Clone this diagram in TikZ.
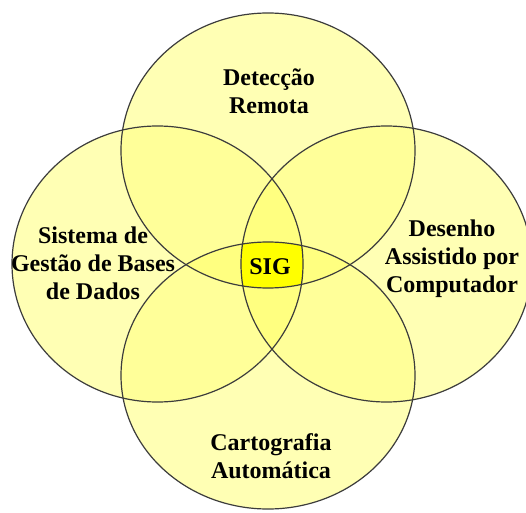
\documentclass[tikz,border=0pt]{standalone}
\usepackage{fontspec}
\setmainfont{Liberation Serif}
\definecolor{cA}{RGB}{255,255,180}
\definecolor{cB}{RGB}{255,255,153}
\definecolor{cC}{RGB}{255,255,128}
\definecolor{cD}{RGB}{255,255,0}
\definecolor{outc}{RGB}{60,60,60}
\begin{document}
\begin{tikzpicture}[x=1bp,y=-1bp,
  lab/.style={font=\bfseries\fontsize{24bp}{28bp}\selectfont, align=center, inner sep=0pt, text=black},
  outl/.style={draw=outc, line width=1.2bp}]
\def\ET{(268,150.5) ellipse [x radius=147bp, y radius=137.5bp]}
\def\EL{(157.5,264) ellipse [x radius=145.5bp, y radius=138bp]}
\def\ER{(386.5,264) ellipse [x radius=145.5bp, y radius=138bp]}
\def\EB{(268,375.5) ellipse [x radius=147bp, y radius=133.5bp]}
\useasboundingbox (0,0) rectangle (526,513);
\clip (0,0) rectangle (526,513);
\fill[white] (0,0) rectangle (526,513);
% single
\fill[cA] \ET; \fill[cA] \EL; \fill[cA] \ER; \fill[cA] \EB;
% pairs
\begin{scope}\clip \ET; \fill[cB] \EL; \fill[cB] \ER; \fill[cB] \EB;\end{scope}
\begin{scope}\clip \EL; \fill[cB] \ER; \fill[cB] \EB;\end{scope}
\begin{scope}\clip \ER; \fill[cB] \EB;\end{scope}
% triples
\begin{scope}\clip \ET; \clip \EL; \fill[cC] \ER; \fill[cC] \EB;\end{scope}
\begin{scope}\clip \ET; \clip \ER; \fill[cC] \EB;\end{scope}
\begin{scope}\clip \EL; \clip \ER; \fill[cC] \EB;\end{scope}
% quad
\begin{scope}\clip \ET; \clip \EL; \clip \ER; \fill[cD] \EB;\end{scope}
% outlines
\draw[outl] \ET; \draw[outl] \EL; \draw[outl] \ER; \draw[outl] \EB;
% labels
\node[lab] (det) at (269,91) {Detecção\\Remota};
\node[lab] (sgbd) at (93,263) {Sistema de\\Gestão de Bases\\de Dados};
\node[lab] (cad) at (452,259) {Desenho\\Assistido por\\Computador};
\node[lab] (cart) at (271,456) {Cartografia\\Automática};
\node[lab] (sig) at (270,267) {SIG};
\end{tikzpicture}
\end{document}
